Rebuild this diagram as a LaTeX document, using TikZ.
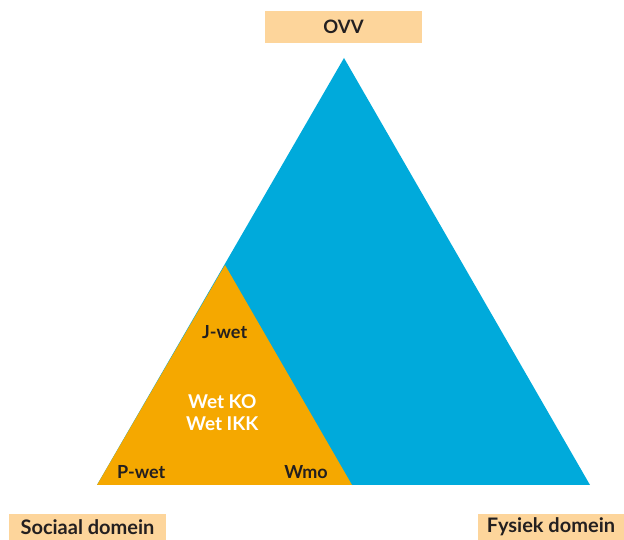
\documentclass[tikz,border=0pt]{standalone}
\usepackage{fontspec}
\setmainfont{Lato}
\usetikzlibrary{positioning}

\definecolor{ovvblauw}{HTML}{00AADB}
\definecolor{ovvoranje}{HTML}{F5A800}
\definecolor{ovvlabel}{HTML}{FDD59B}
\definecolor{ovvtekst}{HTML}{231F20}

\begin{document}
\begin{tikzpicture}[x=1pt,y=1pt]
  \tikzstyle{domein}=[fill=ovvlabel,text=ovvtekst,font=\fontsize{20}{22}\selectfont\bfseries,inner sep=0pt]
  \tikzstyle{wet}=[text=ovvtekst,font=\fontsize{18}{20}\selectfont\bfseries,inner sep=0pt]
  \tikzstyle{wetwit}=[text=white,font=\fontsize{19}{21.6}\selectfont\bfseries,align=center,inner sep=0pt]

  \useasboundingbox (0,0) rectangle (624,540);

  % hoekpunten
  \coordinate (top) at (344,482);
  \coordinate (links) at (97,55);
  \coordinate (rechts) at (590,55);
  \coordinate (midtop) at (225,275);
  \coordinate (midrechts) at (352,55);

  \fill[ovvblauw] (top) -- (rechts) -- (links) -- cycle;
  \fill[ovvoranje] (midtop) -- (midrechts) -- (links) -- cycle;

  \node[domein,minimum width=157,minimum height=32,font=\fontsize{18.5}{20}\selectfont\bfseries] (ovv) at (343.5,513) {OVV};
  \node[domein,minimum width=157,minimum height=26] (sociaal) at (87.5,13) {Sociaal domein};
  \node[domein,minimum width=146,minimum height=26] (fysiek) at (551,13) {Fysiek domein};

  \node[wet] (jwet) at (224.7,208) {J-wet};
  \node[wetwit] (ko) at (222.3,127.5) {Wet KO\\Wet IKK};
  \node[wet] (pwet) at (141.3,68.3) {P-wet};
  \node[wet] (wmo) at (306,68.3) {Wmo};
\end{tikzpicture}
\end{document}
